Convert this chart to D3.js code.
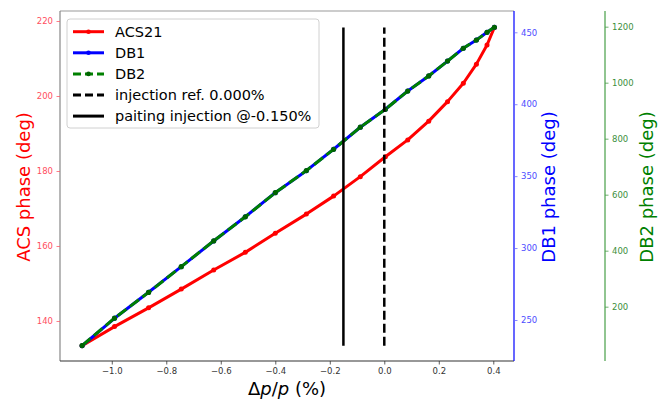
<!DOCTYPE html>
<html><head><meta charset="utf-8">
<script src="https://cdn.jsdelivr.net/npm/d3@7/dist/d3.min.js"></script>
<style>body{margin:0;background:#fff}svg{display:block;font-family:"DejaVu Sans",sans-serif}</style>
</head><body>
<script>
// ---- data ----
const dpp = [-1.109, -0.99, -0.865, -0.745, -0.626, -0.51, -0.40, -0.286, -0.186, -0.088, 0.004, 0.086, 0.163, 0.232, 0.29, 0.338, 0.377, 0.404];
const acsPhase = [133.4, 138.5, 143.5, 148.5, 153.6, 158.3, 163.4, 168.5, 173.3, 178.5, 183.8, 188.3, 193.3, 198.5, 203.4, 208.5, 213.6, 218.3];
const db1Phase = [232.1, 251.2, 269.3, 287.1, 304.9, 321.8, 338.5, 353.8, 368.7, 384.0, 396.5, 409.2, 419.6, 430.0, 438.9, 444.6, 450.0, 453.5];
const db2Phase = [61, 159, 251, 343, 435, 521, 607, 686, 762, 841, 905, 970, 1024, 1077, 1123, 1152, 1180, 1198];
const injectionRef = 0.0;
const paintingInjection = -0.15;
const xTicks = [-1.0, -0.8, -0.6, -0.4, -0.2, 0.0, 0.2, 0.4];
const acsTicks = [140, 160, 180, 200, 220];
const db1Ticks = [250, 300, 350, 400, 450];
const db2Ticks = [200, 400, 600, 800, 1000, 1200];
const legendLabels = ["ACS21", "DB1", "DB2", "injection ref. 0.000%", "paiting injection @-0.150%"];

// ---- layout ----
const W = 667, H = 401;
const L = 60, R = 514, T = 11, B = 361, R2 = 605;
const svg = d3.select("body").append("svg").attr("width", W).attr("height", H);

const x = d3.scaleLinear().domain([-1.19, 0.476]).range([L, R]);
const yA = d3.scaleLinear().domain([129.33, 222.67]).range([B, T]);
const yB = d3.scaleLinear().domain([221.5, 464.8]).range([B, T]);
const yC = d3.scaleLinear().domain([6, 1256]).range([B, T]);

const fmtMinus = d => d3.format(".1f")(d).replace("-", "\u2212");

function styleAxis(g, spineColor, tickColor, labelColor) {
  g.selectAll(".domain").remove();
  g.selectAll(".tick line").attr("stroke", tickColor).attr("stroke-width", 0.8);
  g.selectAll(".tick text").attr("fill", labelColor).attr("font-size", 8.5).attr("font-family", "DejaVu Sans");
}

// spines
svg.append("line").attr("x1", L).attr("x2", R).attr("y1", T).attr("y2", T).attr("stroke", "#999").attr("stroke-width", 1);
svg.append("line").attr("x1", L).attr("x2", L).attr("y1", T).attr("y2", B).attr("stroke", "#888").attr("stroke-width", 1.2);
svg.append("line").attr("x1", L).attr("x2", R).attr("y1", B).attr("y2", B).attr("stroke", "#333").attr("stroke-width", 1.2);
svg.append("line").attr("x1", R).attr("x2", R).attr("y1", T).attr("y2", B).attr("stroke", "#0000ff").attr("stroke-width", 1.2);
svg.append("line").attr("x1", R2).attr("x2", R2).attr("y1", T).attr("y2", B).attr("stroke", "#228b22").attr("stroke-width", 1);

// axes
const gx = svg.append("g").attr("transform", `translate(0,${B})`)
  .call(d3.axisBottom(x).tickValues(xTicks).tickFormat(fmtMinus).tickSize(3.5).tickPadding(3.5));
styleAxis(gx, "#333", "#333", "#333");
const gA = svg.append("g").attr("transform", `translate(${L},0)`)
  .call(d3.axisLeft(yA).tickValues(acsTicks).tickFormat(d3.format("d")).tickSize(3.5).tickPadding(3.5));
styleAxis(gA, "#888", "#ff5a6a", "#ff4d5e");
const gB = svg.append("g").attr("transform", `translate(${R},0)`)
  .call(d3.axisRight(yB).tickValues(db1Ticks).tickFormat(d3.format("d")).tickSize(3.5).tickPadding(3.5));
styleAxis(gB, "#00f", "#6a6aff", "#4d4dff");
const gC = svg.append("g").attr("transform", `translate(${R2},0)`)
  .call(d3.axisRight(yC).tickValues(db2Ticks).tickFormat(d3.format("d")).tickSize(3.5).tickPadding(3.5));
styleAxis(gC, "#228b22", "#4a9a4a", "#3d8f3d");

// axis labels
svg.append("text").attr("transform", "translate(29.5,187) rotate(-90)").attr("text-anchor", "middle")
  .attr("font-size", 18).attr("fill", "#ff0000").text("ACS phase (deg)");
svg.append("text").attr("transform", "translate(554.5,187) rotate(-90)").attr("text-anchor", "middle")
  .attr("font-size", 18).attr("fill", "#0000ff").text("DB1 phase (deg)");
svg.append("text").attr("transform", "translate(652.5,187) rotate(-90)").attr("text-anchor", "middle")
  .attr("font-size", 18).attr("fill", "#008000").text("DB2 phase (deg)");
const xl = svg.append("text").attr("x", (L + R) / 2).attr("y", 395).attr("text-anchor", "middle")
  .attr("font-size", 18).attr("fill", "#000");
xl.append("tspan").text("\u0394");
xl.append("tspan").attr("font-style", "italic").text("p");
xl.append("tspan").text("/");
xl.append("tspan").attr("font-style", "italic").text("p");
xl.append("tspan").text(" (%)");

// data lines
const idx = d3.range(dpp.length);
const lineA = d3.line().x(i => x(dpp[i])).y(i => yA(acsPhase[i]));
const lineB = d3.line().x(i => x(dpp[i])).y(i => yB(db1Phase[i]));
const lineC = d3.line().x(i => x(dpp[i])).y(i => yC(db2Phase[i]));

svg.append("path").attr("d", lineA(idx)).attr("fill", "none").attr("stroke", "#ff0000").attr("stroke-width", 3).attr("stroke-linejoin", "round");
svg.append("g").selectAll("circle").data(idx).join("circle")
  .attr("cx", i => x(dpp[i])).attr("cy", i => yA(acsPhase[i])).attr("r", 2.5).attr("fill", "#ff0000");
svg.append("path").attr("d", lineB(idx)).attr("fill", "none").attr("stroke", "#0000ff").attr("stroke-width", 3).attr("stroke-linejoin", "round");
svg.append("g").selectAll("circle").data(idx).join("circle")
  .attr("cx", i => x(dpp[i])).attr("cy", i => yB(db1Phase[i])).attr("r", 2.5).attr("fill", "#0000ff");
svg.append("path").attr("d", lineC(idx)).attr("fill", "none").attr("stroke", "#008000").attr("stroke-width", 3).attr("stroke-dasharray", "11,4.5");
svg.append("g").selectAll("circle").data(idx).join("circle")
  .attr("cx", i => x(dpp[i])).attr("cy", i => yC(db2Phase[i])).attr("r", 2.6).attr("fill", "#006400");

// vertical injection lines
const acsMin = d3.min(acsPhase), acsMax = d3.max(acsPhase);
svg.append("line").attr("x1", x(paintingInjection)).attr("x2", x(paintingInjection))
  .attr("y1", yA(acsMin)).attr("y2", yA(acsMax)).attr("stroke", "#000").attr("stroke-width", 2.5);
svg.append("line").attr("x1", x(injectionRef)).attr("x2", x(injectionRef))
  .attr("y1", yA(acsMin)).attr("y2", yA(acsMax)).attr("stroke", "#000").attr("stroke-width", 2.5).attr("stroke-dasharray", "9,4");

// legend
const lg = svg.append("g");
lg.append("rect").attr("x", 67).attr("y", 19).attr("width", 252).attr("height", 109).attr("rx", 3)
  .attr("fill", "#fff").attr("fill-opacity", 0.85).attr("stroke", "#d0d0d0").attr("stroke-width", 1);
const legendStyles = [
  {c: "#ff0000", dash: null, m: true},
  {c: "#0000ff", dash: null, m: true},
  {c: "#008000", dash: "8,4", m: true},
  {c: "#000", dash: "8,4", m: false},
  {c: "#000", dash: null, m: false}
];
legendLabels.forEach((lab, i) => {
  const yy = 31.7 + i * 21.1, s = legendStyles[i];
  const ln = lg.append("line").attr("x1", 73).attr("x2", 104).attr("y1", yy).attr("y2", yy)
    .attr("stroke", s.c).attr("stroke-width", 3);
  if (s.dash) ln.attr("stroke-dasharray", s.dash).attr("stroke-dashoffset", i === 2 ? 0 : 0);
  if (s.m) lg.append("circle").attr("cx", 88.5).attr("cy", yy).attr("r", 2.3).attr("fill", i === 2 ? "#006400" : s.c);
  lg.append("text").attr("x", 115).attr("y", yy + 5).attr("font-size", 14.5).attr("fill", "#000").text(lab);
});
</script>
</body></html>
